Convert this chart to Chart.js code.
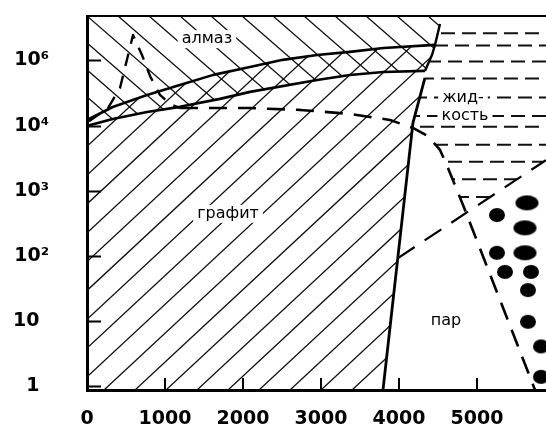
<!DOCTYPE html>
<html>
<head>
<meta charset="utf-8">
<script src="https://cdn.jsdelivr.net/npm/chart.js@4"></script>
<style>
  html, body { margin: 0; padding: 0; background: #fff; }
  canvas { display: block; }
</style>
</head>
<body>
<canvas id="c" width="546" height="428"></canvas>
<script>
// Phase diagram of carbon: temperature, K (x) against pressure, atm (log y)

const xTicks = [0, 1000, 2000, 3000, 4000, 5000];
const yTicks = [1, 10, 100, 1e3, 1e4, 1e5];
const yTickLabels = ['1\u2002', '10\u2002', '10²', '10³', '10⁴', '10⁶'];

const tRange = [0, 5885];
const pRange = [0.88, 4.8e5];

// [T, P] pairs
const graphiteLimit = [[0, 1.22e4], [330, 1.93e4], [770, 2.94e4], [1190, 4.2e4], [1620, 6.0e4],
  [2090, 7.9e4], [2510, 1.02e5], [2950, 1.21e5], [3370, 1.35e5], [3800, 1.55e5], [4460, 1.73e5]];
const diamondLimit = [[0, 9.9e3], [330, 1.26e4], [770, 1.62e4], [1190, 1.94e4], [1705, 2.57e4],
  [2090, 3.29e4], [2950, 5.0e4], [3370, 5.98e4], [3795, 6.65e4], [4333, 6.9e4]];
const diamondMelting = [[4333, 6.9e4], [4423, 1.21e5], [4462, 1.73e5], [4526, 3.62e5]];
const graphiteMelting = [[4333, 5.38e4], [4179, 1.1e4], [3795, 0.88]];
const spikeBoundary = [[26, 1.17e4], [269, 1.86e4], [423, 3.77e4], [590, 2.46e5], [705, 1.21e5],
  [808, 5.78e4], [936, 2.95e4], [1064, 2.15e4], [1192, 1.86e4]];
const liquidBoundary = [[1192, 1.86e4], [2090, 1.86e4], [2731, 1.74e4], [3372, 1.51e4], [3885, 1.22e4],
  [4179, 9.2e3], [4372, 6.9e3], [4526, 4.24e3], [4628, 2.24e3], [4821, 608], [5744, 0.88]];
const vapourBoundary = [[3987, 93], [5885, 2960]];
const liquidIsobars = [2.6e5, 1.7e5, 9.6e4, 5.3e4, 2.7e4, 1.4e4, 9.6e3, 5.1e3, 2.8e3, 1.5e3, 800];
const dropletT = [5641, 5256, 5615, 5256, 5615, 5359, 5692, 5654, 5654, 5821, 5821];
const dropletP = [653, 425, 270, 112, 112, 57, 57, 30, 9.8, 4.1, 1.4];

// drawing styles
const dropletShapes = ['wide', 'round', 'wide', 'round', 'wide', 'round', 'round', 'round', 'round', 'round', 'round'];
const fieldLabels = [
  { text: 'алмаз', t: 1538, p: 2.12e5 },
  { text: 'графит', t: 1808, p: 443 },
  { text: 'жид-', t: 4821, p: 2.7e4 },
  { text: 'кость', t: 4846, p: 1.4e4 },
  { text: 'пар', t: 4603, p: 10.1 }
];

const pMin = pRange[0], pMax = pRange[1], tMax = tRange[1];
const graphiteField = [...graphiteLimit, ...diamondMelting.slice(0, 2).reverse(), ...graphiteMelting, [0, pMin]];
const diamondField = [[0, pMax], [diamondMelting[3][0], pMax], ...diamondMelting.slice().reverse(), ...diamondLimit.slice().reverse()];
const liquidField = [[diamondMelting[3][0], pMax], ...diamondMelting.slice().reverse(), graphiteMelting[0], graphiteMelting[1],
  ...liquidBoundary.slice(5), [tMax, pMin], [tMax, pMax]];
const aboveVapour = [vapourBoundary[0], vapourBoundary[1], [tMax, pMax], [vapourBoundary[0][0], pMax]];

function ellipseSprite(rx, ry) {
  const c = document.createElement('canvas');
  c.width = Math.ceil(rx * 2) + 2;
  c.height = Math.ceil(ry * 2) + 2;
  const g = c.getContext('2d');
  g.fillStyle = '#000';
  g.beginPath();
  g.ellipse(c.width / 2, c.height / 2, rx, ry, 0, 0, Math.PI * 2);
  g.fill();
  return c;
}
const sprites = { wide: ellipseSprite(11.5, 7.5), round: ellipseSprite(8, 7) };

const toXY = pts => pts.map(([x, y]) => ({ x, y }));

function lineSet(pts, width, dash) {
  return {
    data: toXY(pts), showLine: true, pointRadius: 0, borderColor: '#000',
    borderWidth: width, borderDash: dash || [], tension: 0, fill: false,
    borderCapStyle: 'butt', borderJoinStyle: 'round'
  };
}

// keep the plot box fixed: no extra room reserved for end labels
function fixBox(size, key) {
  return s => {
    s[key] = size;
    s.paddingTop = s.paddingBottom = s.paddingLeft = s.paddingRight = 0;
  };
}

const phasePlugin = {
  id: 'phaseFields',
  beforeDatasetsDraw(chart) {
    const { ctx, chartArea: a, scales: { x, y } } = chart;
    const trace = pts => {
      ctx.beginPath();
      pts.forEach(([t, p], i) => {
        const px = x.getPixelForValue(t), py = y.getPixelForValue(p);
        i ? ctx.lineTo(px, py) : ctx.moveTo(px, py);
      });
      ctx.closePath();
    };
    const hatch = (pts, rising, slope, gap, phase) => {
      ctx.save();
      trace(pts);
      ctx.clip();
      ctx.beginPath();
      const span = 700;
      const yRef = rising ? a.bottom : a.top;
      for (let xs = a.left + phase - 40 * gap; xs < a.right + 40 * gap; xs += gap) {
        if (rising) {
          ctx.moveTo(xs - span, yRef + span * slope);
          ctx.lineTo(xs + span, yRef - span * slope);
        } else {
          ctx.moveTo(xs - span, yRef - span * slope);
          ctx.lineTo(xs + span, yRef + span * slope);
        }
      }
      ctx.lineWidth = 1.3;
      ctx.strokeStyle = '#111';
      ctx.stroke();
      ctx.restore();
    };
    hatch(graphiteField, true, 0.93, 31, 17);
    hatch(diamondField, false, 0.87, 31, 0);

    // isobars across the liquid field
    ctx.save();
    trace(liquidField);
    ctx.clip();
    trace(aboveVapour);
    ctx.clip();
    ctx.lineWidth = 2;
    ctx.strokeStyle = '#111';
    ctx.setLineDash([14, 7]);
    liquidIsobars.forEach((p, i) => {
      const py = y.getPixelForValue(p);
      ctx.lineDashOffset = (i * 7) % 21;
      ctx.beginPath();
      ctx.moveTo(x.getPixelForValue(4000), py);
      ctx.lineTo(a.right, py);
      ctx.stroke();
    });
    ctx.restore();
  },
  afterDatasetsDraw(chart) {
    const { ctx, chartArea: a, scales: { x, y } } = chart;
    ctx.save();
    ctx.strokeStyle = '#000';
    // frame top
    ctx.lineWidth = 2;
    ctx.beginPath();
    ctx.moveTo(a.left, a.top);
    ctx.lineTo(a.right, a.top);
    ctx.stroke();
    // inward tick marks
    ctx.lineWidth = 2;
    ctx.beginPath();
    yTicks.forEach(v => {
      const py = Math.round(y.getPixelForValue(v)) + 0.5;
      ctx.moveTo(a.left, py);
      ctx.lineTo(a.left + 14, py);
    });
    xTicks.slice(1).forEach(v => {
      const px = Math.round(x.getPixelForValue(v));
      ctx.moveTo(px, a.bottom);
      ctx.lineTo(px, a.bottom - 12);
    });
    ctx.stroke();
    // field names
    ctx.font = '16px "DejaVu Sans"';
    ctx.textAlign = 'center';
    ctx.textBaseline = 'middle';
    fieldLabels.forEach(l => {
      const px = x.getPixelForValue(l.t), py = y.getPixelForValue(l.p);
      const w = ctx.measureText(l.text).width;
      ctx.fillStyle = '#fff';
      ctx.fillRect(px - w / 2 - 4, py - 9, w + 8, 18);
      ctx.fillStyle = '#000';
      ctx.fillText(l.text, px, py);
    });
    ctx.restore();
  }
};

const axisFont = { family: '"DejaVu Sans"', size: 19, weight: 'bold' };

new Chart(document.getElementById('c'), {
  type: 'scatter',
  data: {
    datasets: [
      lineSet(graphiteLimit, 2.6),
      lineSet(diamondLimit, 2.6),
      lineSet(diamondMelting, 2.4),
      lineSet(graphiteMelting, 2.8),
      lineSet(spikeBoundary, 2.4, [13, 10]),
      lineSet(liquidBoundary, 2.6, [18, 11]),
      lineSet(vapourBoundary, 2.2, [20, 12]),
      {
        data: dropletT.map((t, i) => ({ x: t, y: dropletP[i] })),
        showLine: false,
        pointRadius: 8,
        pointStyle: ctx => sprites[dropletShapes[ctx.dataIndex]] || 'circle',
        backgroundColor: '#000',
        borderColor: '#000'
      }
    ]
  },
  options: {
    responsive: false,
    animation: false,
    devicePixelRatio: 1,
    layout: { autoPadding: false, padding: { top: 16, right: 0, bottom: 0, left: 0 } },
    plugins: { legend: { display: false }, tooltip: { enabled: false } },
    scales: {
      x: {
        type: 'linear', min: tRange[0], max: tRange[1],
        afterBuildTicks: s => { s.ticks = xTicks.map(v => ({ value: v })); },
        afterFit: fixBox(38, 'height'),
        grid: { display: false, drawTicks: false },
        border: { display: true, color: '#000', width: 3 },
        ticks: { autoSkip: false, maxRotation: 0, padding: 18, color: '#000', font: axisFont,
          callback: v => String(v) }
      },
      y: {
        type: 'logarithmic', min: pRange[0], max: pRange[1],
        afterBuildTicks: s => { s.ticks = yTicks.map(v => ({ value: v })); },
        afterFit: fixBox(87, 'width'),
        grid: { display: false, drawTicks: false },
        border: { display: true, color: '#000', width: 3 },
        ticks: { autoSkip: false, padding: 38, color: '#000', font: axisFont,
          callback: (v, i) => yTickLabels[i] }
      }
    }
  },
  plugins: [phasePlugin]
});
</script>
</body>
</html>
